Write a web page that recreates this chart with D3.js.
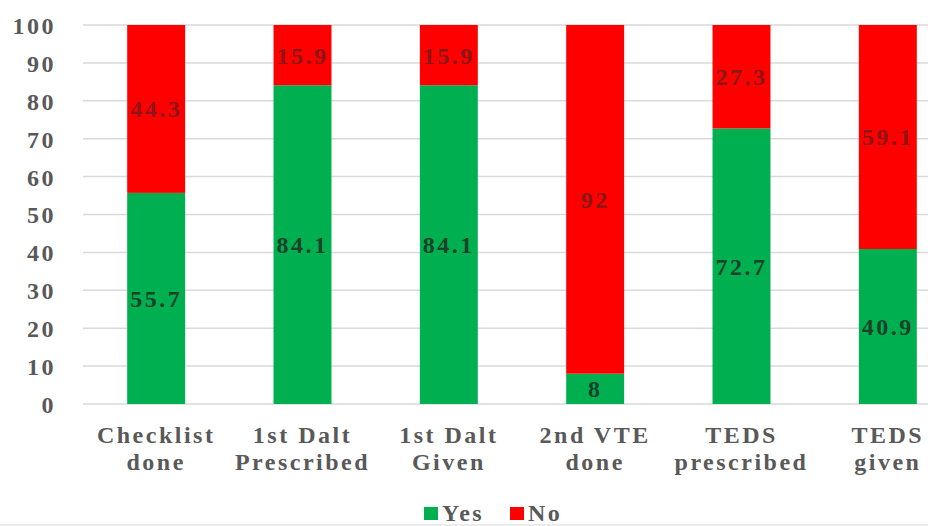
<!DOCTYPE html>
<html>
<head>
<meta charset="utf-8">
<script src="https://cdn.jsdelivr.net/npm/d3@7"></script>
<style>
  html, body { margin: 0; padding: 0; background: #fff; }
  svg { display: block; }
</style>
</head>
<body>
<svg id="chart" width="928" height="526"></svg>
<script>
// Compliance with VTE prophylaxis steps (% of patients)
const categories = [
  ["Checklist", "done"],
  ["1st Dalt", "Prescribed"],
  ["1st Dalt", "Given"],
  ["2nd VTE", "done"],
  ["TEDS", "prescribed"],
  ["TEDS", "given"]
];
const yesValues = [55.7, 84.1, 84.1, 8, 72.7, 40.9];
const noValues  = [44.3, 15.9, 15.9, 92, 27.3, 59.1];
const seriesNames = ["Yes", "No"];
const seriesColors = ["#00b050", "#ff0000"];
const yTicks = [0, 10, 20, 30, 40, 50, 60, 70, 80, 90, 100];

const FONT = "'Liberation Serif', 'Times New Roman', 'DejaVu Serif', serif";
const FS = 24, LS = 2.5;

const svg = d3.select("#chart");
const W = 928;

function styleText(sel) {
  sel.attr("font-family", FONT)
    .style("font-family", FONT)
    .style("font-weight", "bold")
    .style("font-size", FS + "px")
    .style("letter-spacing", LS + "px");
  return sel;
}

const keys = categories.map(c => c.join(" "));
const rows = keys.map((k, i) => ({ key: k, Yes: yesValues[i], No: noValues[i] }));

const x = d3.scaleBand()
  .domain(keys)
  .range([83, 961])
  .paddingInner(0.604)
  .paddingOuter(0.302);

const y = d3.scaleLinear().domain([0, 100]).range([404, 25]);

// horizontal gridlines
svg.append("g")
  .selectAll("line")
  .data(yTicks)
  .join("line")
  .attr("x1", 83).attr("x2", W)
  .attr("y1", d => y(d)).attr("y2", d => y(d))
  .attr("stroke", "#d9d9d9")
  .attr("stroke-width", 1.5);

// y-axis labels
const yAxis = d3.axisLeft(y).tickValues(yTicks).tickSize(0).tickPadding(0);
const yg = svg.append("g").attr("transform", "translate(56,0)").call(yAxis);
yg.attr("font-family", FONT);
yg.select(".domain").remove();
styleText(yg.selectAll("text"))
  .attr("fill", "#595959")
  .attr("dy", "0.35em");

// stacked bars
const stack = d3.stack().keys(seriesNames)(rows);
const color = d3.scaleOrdinal().domain(seriesNames).range(seriesColors);

svg.append("g")
  .selectAll("g")
  .data(stack)
  .join("g")
  .attr("fill", d => color(d.key))
  .selectAll("rect")
  .data(d => d)
  .join("rect")
  .attr("x", d => x(d.data.key))
  .attr("width", x.bandwidth())
  .attr("y", d => y(d[1]))
  .attr("height", d => y(d[0]) - y(d[1]));

// value labels in the middle of each segment
const valueLabels = svg.append("g")
  .selectAll("g")
  .data(stack)
  .join("g")
  .attr("fill", d => d.key === "Yes" ? "#1b4229" : "#8c1515")
  .selectAll("text")
  .data(d => d)
  .join("text")
  .attr("x", d => x(d.data.key) + x.bandwidth() / 2)
  .attr("y", d => y((d[0] + d[1]) / 2))
  .attr("dy", "0.35em")
  .attr("text-anchor", "middle")
  .text(d => d3.format("")(+(d[1] - d[0]).toFixed(1)));
styleText(valueLabels);

// category labels (two lines each)
const catLabels = svg.append("g")
  .selectAll("text")
  .data(categories)
  .join("text")
  .attr("x", (d, i) => x(keys[i]) + x.bandwidth() / 2)
  .attr("y", 443)
  .attr("text-anchor", "middle")
  .attr("fill", "#595959")
  .each(function(d) {
    const t = d3.select(this);
    d.forEach((line, j) => {
      t.append("tspan")
        .attr("x", t.attr("x"))
        .attr("dy", j === 0 ? 0 : 27)
        .text(line);
    });
  });
styleText(catLabels);

// legend
const legend = svg.append("g").attr("transform", "translate(424,521)");
const legendX = [0, 86];
seriesNames.forEach((name, i) => {
  const g = legend.append("g").attr("transform", `translate(${legendX[i]},0)`);
  g.append("rect")
    .attr("x", 0).attr("y", -14)
    .attr("width", 14).attr("height", 13)
    .attr("fill", seriesColors[i]);
  styleText(g.append("text"))
    .attr("x", 18).attr("y", 0)
    .attr("fill", "#595959")
    .text(name);
});

// bottom frame line
svg.append("line")
  .attr("x1", 0).attr("x2", W)
  .attr("y1", 525).attr("y2", 525)
  .attr("stroke", "#d9d9d9")
  .attr("stroke-width", 1);
</script>
</body>
</html>
